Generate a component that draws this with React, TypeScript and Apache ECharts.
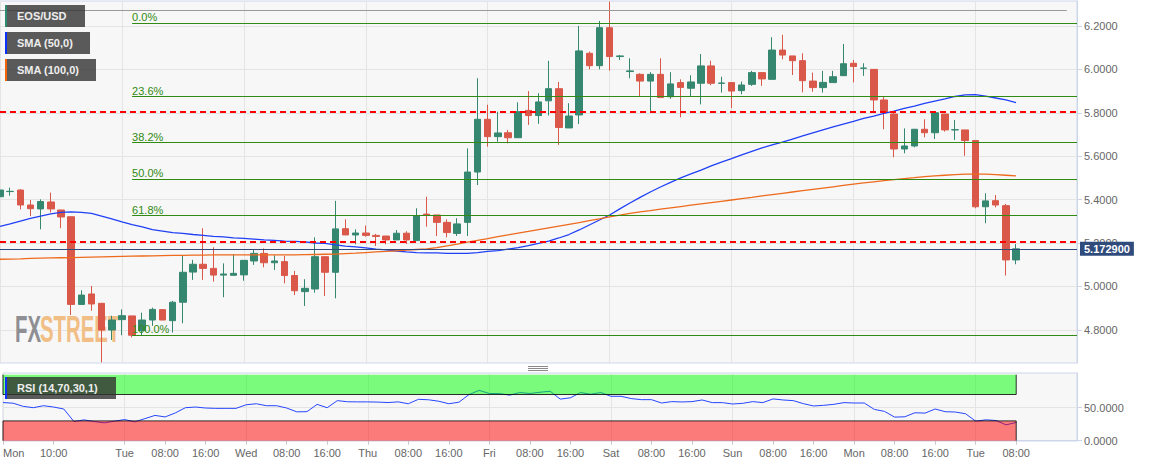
import React, { useEffect, useRef } from 'react';
import * as echarts from 'echarts';

const FONT = '"Liberation Sans", Arial, Helvetica, sans-serif';

// ---- time axis (2-hour bars, Mon 00:00 .. Tue 20:00 next week) ----
const dayNames = ['Mon', 'Tue', 'Wed', 'Thu', 'Fri', 'Sat', 'Sun', 'Mon', 'Tue'];
const barsPerDay = 12;
const slotCount = 107;
const xLabelIdx = [0, 5, 12, 16, 20, 24, 28, 32, 36, 40, 44, 48, 52, 56, 60, 64, 68, 72, 76, 80, 84, 88, 92, 96, 100];

// ---- EOS/USD candles: [open, close, low, high] ----
const candles = [
  [5.413, 5.444, 5.413, 5.480], [5.437, 5.438, 5.418, 5.455], [5.444, 5.375, 5.355, 5.447], [5.375, 5.358, 5.324, 5.398],
  [5.357, 5.391, 5.263, 5.401], [5.389, 5.357, 5.341, 5.432], [5.352, 5.320, 5.268, 5.352], [5.321, 4.917, 4.868, 5.321],
  [4.917, 4.960, 4.917, 4.982], [4.965, 4.919, 4.888, 5.002], [4.922, 4.799, 4.650, 4.922], [4.799, 4.845, 4.753, 4.865],
  [4.847, 4.865, 4.775, 4.894], [4.864, 4.775, 4.765, 4.864], [4.796, 4.845, 4.771, 4.879], [4.845, 4.894, 4.818, 4.902],
  [4.893, 4.845, 4.845, 4.893], [4.842, 4.927, 4.787, 4.933], [4.927, 5.065, 4.830, 5.140], [5.066, 5.102, 5.030, 5.122],
  [5.102, 5.083, 5.030, 5.268], [5.083, 5.052, 5.022, 5.180], [5.052, 5.057, 4.950, 5.106], [5.051, 5.060, 5.051, 5.149],
  [5.053, 5.120, 5.026, 5.120], [5.117, 5.152, 5.099, 5.168], [5.152, 5.109, 5.088, 5.175], [5.109, 5.117, 5.076, 5.143],
  [5.114, 5.050, 5.014, 5.140], [5.050, 4.980, 4.960, 5.071], [4.976, 4.991, 4.910, 5.033], [4.988, 5.137, 4.971, 5.226],
  [5.137, 5.065, 4.956, 5.137], [5.065, 5.265, 4.945, 5.394], [5.266, 5.237, 5.237, 5.309], [5.237, 5.246, 5.194, 5.263],
  [5.246, 5.235, 5.229, 5.280], [5.235, 5.230, 5.186, 5.242], [5.232, 5.214, 5.194, 5.232], [5.214, 5.245, 5.214, 5.260],
  [5.245, 5.214, 5.195, 5.254], [5.211, 5.326, 5.211, 5.360], [5.333, 5.328, 5.275, 5.413], [5.329, 5.295, 5.232, 5.329],
  [5.295, 5.248, 5.226, 5.309], [5.244, 5.288, 5.232, 5.314], [5.295, 5.527, 5.232, 5.636], [5.527, 5.770, 5.467, 5.959],
  [5.770, 5.690, 5.644, 5.837], [5.690, 5.707, 5.667, 5.805], [5.708, 5.685, 5.659, 5.721], [5.685, 5.805, 5.685, 5.848],
  [5.811, 5.787, 5.744, 5.900], [5.787, 5.850, 5.749, 5.890], [5.855, 5.911, 5.787, 6.039], [5.911, 5.732, 5.652, 5.942],
  [5.730, 5.785, 5.730, 5.844], [5.790, 6.085, 5.748, 6.200], [6.074, 6.017, 6.000, 6.082], [6.017, 6.192, 6.000, 6.223],
  [6.192, 6.059, 5.994, 6.312], [6.059, 6.062, 6.043, 6.066], [5.990, 5.993, 5.959, 6.051], [5.977, 5.946, 5.877, 5.982],
  [5.946, 5.977, 5.805, 5.987], [5.977, 5.870, 5.870, 6.051], [5.874, 5.933, 5.864, 5.987], [5.939, 5.917, 5.779, 5.954],
  [5.913, 5.942, 5.877, 5.973], [5.936, 6.016, 5.839, 6.071], [6.016, 5.936, 5.927, 6.040], [5.936, 5.937, 5.893, 5.966],
  [5.939, 5.900, 5.821, 5.939], [5.902, 5.928, 5.885, 5.944], [5.931, 5.985, 5.924, 5.993], [5.985, 5.956, 5.924, 5.985],
  [5.954, 6.089, 5.954, 6.148], [6.089, 6.066, 6.046, 6.159], [6.062, 6.040, 5.974, 6.062], [6.040, 5.948, 5.894, 6.074],
  [5.946, 5.916, 5.897, 5.985], [5.916, 5.940, 5.893, 5.993], [5.939, 5.966, 5.939, 5.993], [5.971, 6.026, 5.971, 6.117],
  [6.028, 6.013, 5.940, 6.043], [6.005, 6.006, 5.970, 6.028], [6.000, 5.859, 5.808, 6.000], [5.859, 5.801, 5.724, 5.874],
  [5.794, 5.633, 5.595, 5.804], [5.633, 5.647, 5.613, 5.728], [5.647, 5.724, 5.641, 5.724], [5.724, 5.708, 5.687, 5.770],
  [5.708, 5.800, 5.679, 5.800], [5.794, 5.721, 5.713, 5.794], [5.721, 5.722, 5.675, 5.767], [5.721, 5.672, 5.602, 5.721],
  [5.672, 5.367, 5.360, 5.672], [5.367, 5.394, 5.291, 5.429], [5.395, 5.375, 5.364, 5.421], [5.372, 5.122, 5.050, 5.380],
  [5.122, 5.1729, 5.102, 5.195],
];

const sma50 = [
  5.276, 5.288, 5.301, 5.313, 5.324, 5.334, 5.341, 5.343, 5.341, 5.336,
  5.324, 5.311, 5.297, 5.285, 5.274, 5.262, 5.255, 5.248, 5.244, 5.239,
  5.235, 5.230, 5.228, 5.224, 5.221, 5.218, 5.214, 5.212, 5.209, 5.207,
  5.205, 5.200, 5.198, 5.191, 5.186, 5.182, 5.177, 5.172, 5.168, 5.163,
  5.159, 5.156, 5.154, 5.154, 5.152, 5.152, 5.152, 5.156, 5.161, 5.165,
  5.172, 5.179, 5.188, 5.198, 5.209, 5.223, 5.239, 5.260, 5.283, 5.306,
  5.329, 5.357, 5.384, 5.410, 5.435, 5.458, 5.479, 5.500, 5.518, 5.536,
  5.555, 5.573, 5.589, 5.606, 5.622, 5.638, 5.652, 5.665, 5.679, 5.693,
  5.707, 5.721, 5.735, 5.748, 5.760, 5.774, 5.785, 5.797, 5.808, 5.820,
  5.831, 5.843, 5.854, 5.864, 5.875, 5.882, 5.884, 5.877, 5.868, 5.859,
  5.847,
];

const sma100 = [
  5.125, 5.126, 5.127, 5.129, 5.130, 5.131, 5.132, 5.133, 5.134, 5.135,
  5.136, 5.137, 5.138, 5.139, 5.140, 5.141, 5.142, 5.143, 5.143, 5.144,
  5.144, 5.145, 5.145, 5.145, 5.145, 5.145, 5.145, 5.145, 5.145, 5.145,
  5.146, 5.147, 5.148, 5.149, 5.151, 5.153, 5.156, 5.159, 5.161, 5.164,
  5.167, 5.170, 5.173, 5.179, 5.187, 5.195, 5.204, 5.212, 5.220, 5.229,
  5.237, 5.245, 5.253, 5.262, 5.270, 5.278, 5.286, 5.294, 5.303, 5.311,
  5.320, 5.328, 5.336, 5.343, 5.349, 5.356, 5.362, 5.368, 5.374, 5.380,
  5.386, 5.392, 5.398, 5.404, 5.410, 5.417, 5.423, 5.429, 5.435, 5.441,
  5.447, 5.453, 5.459, 5.465, 5.471, 5.477, 5.482, 5.487, 5.492, 5.497,
  5.501, 5.506, 5.509, 5.512, 5.515, 5.517, 5.517, 5.517, 5.515, 5.512,
  5.509,
];

const rsi = [
  57.8, 56.8, 52.0, 50.0, 53.0, 51.0, 48.0, 29.0, 31.5, 29.0,
  27.0, 29.5, 32.0, 28.5, 33.4, 38.3, 36.0, 42.0, 50.0, 51.0,
  49.5, 49.0, 49.0, 49.0, 54.4, 56.0, 53.0, 53.0, 49.5, 43.7,
  44.0, 55.0, 50.0, 60.7, 59.0, 58.8, 58.8, 58.5, 57.8, 58.8,
  56.0, 62.7, 62.0, 59.8, 56.0, 58.3, 70.0, 76.3, 71.5, 71.5,
  69.0, 73.0, 71.5, 73.4, 75.0, 63.0, 65.0, 73.0, 70.4, 73.0,
  67.3, 67.3, 63.8, 62.2, 62.2, 57.1, 59.2, 58.7, 59.2, 61.7,
  57.7, 57.7, 55.6, 56.6, 59.2, 57.7, 63.3, 61.7, 60.7, 56.1,
  52.6, 53.6, 55.1, 57.7, 57.1, 57.1, 47.4, 44.4, 35.7, 36.2,
  42.3, 41.8, 48.0, 43.9, 43.4, 40.8, 29.6, 31.6, 30.6, 24.0,
  27.6,
];

// ---- drawn levels ----
const fibLevels = [0, 23.6, 38.2, 50, 61.8, 100];
const fibHigh = 6.214;
const fibLow = 4.777;
const fibStartIdx = 13;
const redLevels = [5.803, 5.207];
const greyLevel = 6.273;
const lastPrice = 5.1729;
const rsiUpper = 70;
const rsiLower = 30;

const priceTicks = [4.8, 5.0, 5.2, 5.4, 5.6, 5.8, 6.0, 6.2];
const rsiTicks = [0, 50];

const categories: string[] = [];
for (let i = 0; i < slotCount; i++) {
  const d = Math.floor(i / barsPerDay);
  const hh = String((i % barsPerDay) * 2).padStart(2, '0') + ':00';
  categories.push(`${d}|${dayNames[d]}|${hh}`);
}
const fmtX = (v: string) => {
  const parts = v.split('|');
  return parts[2] === '00:00' ? parts[1] : parts[2];
};

const UP = '#35876f';
const DOWN = '#d9584a';
const FIB = '#318a12';
const NAVY = '#2f4b7c';

export default function App() {
  const ref = useRef<HTMLDivElement>(null);
  useEffect(() => {
    if (!ref.current) return;
    const chart = echarts.init(ref.current, null, { renderer: 'svg' });
    const lastIdx = slotCount - 1;
    const fibData = fibLevels.map((l) => {
      const v = fibHigh - (l / 100) * (fibHigh - fibLow);
      return [
        {
          coord: [fibStartIdx, v],
          name: l.toFixed(1) + '%',
          lineStyle: { color: FIB, width: 1, type: 'solid' },
          label: { show: true, position: 'insideStartTop', formatter: '{b}', color: FIB, fontSize: 11, fontFamily: FONT, distance: [0, 0] },
        },
        { coord: [lastIdx, v] },
      ];
    });
    const xAxisFor = (g: number) => ({
      type: 'category',
      gridIndex: g,
      data: categories,
      boundaryGap: false,
      axisLine: { show: g === 1, lineStyle: { color: '#ccd6eb' } },
      axisTick: { show: g === 1, length: 4, interval: (i: number) => xLabelIdx.includes(i), lineStyle: { color: '#c6c6c6' } },
      axisLabel: {
        show: g === 1,
        interval: (i: number) => xLabelIdx.includes(i),
        formatter: fmtX,
        color: '#666',
        fontSize: 11,
        fontFamily: FONT,
        margin: 6,
        alignMinLabel: 'left',
      },
      splitLine: { show: true, interval: (i: number) => i % barsPerDay === 0, lineStyle: { color: '#e4e4e4' } },
    });
    const option: any = {
      animation: false,
      textStyle: { fontFamily: FONT },
      grid: [
        { left: 0, top: 1, width: 1077, height: 362, show: true, backgroundColor: '#f7f7f7', borderColor: '#ccd6eb', borderWidth: 1 },
        { left: 0, top: 373, width: 1077, height: 68, show: true, backgroundColor: '#f7f7f7', borderColor: '#ccd6eb', borderWidth: 1 },
      ],
      xAxis: [xAxisFor(0), xAxisFor(1)],
      yAxis: [
        {
          type: 'value', gridIndex: 0, position: 'right', min: 4.647, max: 6.315,
          axisLine: { show: true, lineStyle: { color: '#ccd6eb' } },
          axisTick: { show: true, length: 5, customValues: priceTicks, lineStyle: { color: '#ccd6eb' } },
          axisLabel: { customValues: priceTicks, formatter: (v: number) => v.toFixed(4), color: '#666', fontSize: 11, fontFamily: FONT, margin: 7 },
          splitLine: { show: true, lineStyle: { color: '#e4e4e4' } },
        },
        {
          type: 'value', gridIndex: 1, position: 'right', min: -0.5, max: 102.6,
          axisLine: { show: true, lineStyle: { color: '#ccd6eb' } },
          axisTick: { show: true, length: 5, customValues: rsiTicks, lineStyle: { color: '#ccd6eb' } },
          axisLabel: { customValues: rsiTicks, formatter: (v: number) => v.toFixed(4), color: '#666', fontSize: 11, fontFamily: FONT, margin: 7 },
          splitLine: { show: true, lineStyle: { color: '#e4e4e4' } },
        },
      ],
      series: [
        {
          type: 'candlestick',
          xAxisIndex: 0,
          yAxisIndex: 0,
          data: candles,
          barWidth: 7,
          silent: true,
          itemStyle: { color: UP, color0: DOWN, borderColor: UP, borderColor0: DOWN, borderWidth: 1 },
          markLine: {
            silent: true,
            symbol: ['none', 'none'],
            precision: 6,
            data: [
              ...redLevels.map((v) => ({ yAxis: v, lineStyle: { color: '#ff0000', type: [6, 4], width: 2 }, label: { show: false } })),
              [
                { coord: [0, greyLevel], lineStyle: { color: '#9a9a9a', width: 1, type: 'solid' }, label: { show: false } },
                { coord: [lastIdx - 1, greyLevel] },
              ],
              ...fibData,
              {
                yAxis: lastPrice,
                lineStyle: { color: NAVY, width: 1, type: 'solid' },
                label: {
                  show: true, position: 'end', formatter: lastPrice.toFixed(6), backgroundColor: NAVY, color: '#fff',
                  fontWeight: 'bold', fontSize: 11, fontFamily: FONT, padding: [2, 4, 1, 4], distance: 3,
                },
              },
            ],
          },
        },
        {
          type: 'line', name: 'SMA (50,0)', xAxisIndex: 0, yAxisIndex: 0, data: sma50,
          showSymbol: false, symbol: 'none', silent: true, lineStyle: { color: '#2040f6', width: 1.3 },
        },
        {
          type: 'line', name: 'SMA (100,0)', xAxisIndex: 0, yAxisIndex: 0, data: sma100,
          showSymbol: false, symbol: 'none', silent: true, lineStyle: { color: '#ee6a1c', width: 1.3 },
        },
        {
          type: 'line', name: 'RSI', xAxisIndex: 1, yAxisIndex: 1, data: rsi, z: 2,
          showSymbol: false, symbol: 'none', silent: true, lineStyle: { color: '#2646ff', width: 1 },
        },
        {
          type: 'custom', xAxisIndex: 1, yAxisIndex: 1, z: 5, silent: true,
          data: [
            [0, candles.length - 1, rsiUpper, 100],
            [0, candles.length - 1, 0, rsiLower],
          ],
          renderItem: (params: any, api: any) => {
            const pTL = api.coord([api.value(0), api.value(3)]);
            const pBR = api.coord([api.value(1), api.value(2)]);
            const upper = params.dataIndex === 0;
            const x0 = pTL[0], x1 = pBR[0], yT = pTL[1], yB = pBR[1];
            const edge = upper
              ? [[x0, yT], [x0, yB], [x1, yB], [x1, yT]]
              : [[x0, yB], [x0, yT], [x1, yT], [x1, yB]];
            return {
              type: 'group',
              children: [
                { type: 'rect', shape: { x: x0, y: yT, width: x1 - x0, height: yB - yT }, style: { fill: upper ? 'rgba(0,255,0,0.5)' : 'rgba(255,0,0,0.5)' } },
                { type: 'polyline', shape: { points: edge }, style: { stroke: 'rgba(0,0,0,0.8)', lineWidth: 1, fill: 'none' } },
              ],
            };
          },
        },
      ],
      graphic: [
        { type: 'text', x: 15, y: 310, scaleX: 0.55, z: 1, silent: true, style: { text: 'FX', fill: '#8e8e93', font: `bold 37px ${FONT}` } },
        { type: 'text', x: 40, y: 310, scaleX: 0.55, z: 1, silent: true, style: { text: 'STREET', fill: '#f1be86', font: `bold 37px ${FONT}` } },
        // legend boxes
        { type: 'rect', z: 100, silent: true, shape: { x: 5, y: 5, width: 2, height: 22 }, style: { fill: '#2e8a70' } },
        { type: 'rect', z: 100, silent: true, shape: { x: 7, y: 5, width: 78, height: 22 }, style: { fill: 'rgba(50,50,50,0.8)' } },
        { type: 'text', z: 101, silent: true, x: 17, y: 16, style: { text: 'EOS/USD', fill: '#eeeeee', font: `bold 11px ${FONT}`, verticalAlign: 'middle' } },
        { type: 'rect', z: 100, silent: true, shape: { x: 5, y: 32, width: 2, height: 22 }, style: { fill: '#0a32ff' } },
        { type: 'rect', z: 100, silent: true, shape: { x: 7, y: 32, width: 83, height: 22 }, style: { fill: 'rgba(50,50,50,0.8)' } },
        { type: 'text', z: 101, silent: true, x: 17, y: 43, style: { text: 'SMA (50,0)', fill: '#eeeeee', font: `bold 11px ${FONT}`, verticalAlign: 'middle' } },
        { type: 'rect', z: 100, silent: true, shape: { x: 5, y: 59, width: 2, height: 22 }, style: { fill: '#f0640a' } },
        { type: 'rect', z: 100, silent: true, shape: { x: 7, y: 59, width: 89, height: 22 }, style: { fill: 'rgba(50,50,50,0.8)' } },
        { type: 'text', z: 101, silent: true, x: 17, y: 70, style: { text: 'SMA (100,0)', fill: '#eeeeee', font: `bold 11px ${FONT}`, verticalAlign: 'middle' } },
        { type: 'rect', z: 100, silent: true, shape: { x: 5, y: 377, width: 2, height: 22 }, style: { fill: '#0a32ff' } },
        { type: 'rect', z: 100, silent: true, shape: { x: 7, y: 377, width: 109, height: 22 }, style: { fill: 'rgba(50,50,50,0.8)' } },
        { type: 'text', z: 101, silent: true, x: 17, y: 388, style: { text: 'RSI (14,70,30,1)', fill: '#eeeeee', font: `bold 11px ${FONT}`, verticalAlign: 'middle' } },
        // panel divider handle
        { type: 'line', z: 100, silent: true, shape: { x1: 528, y1: 366.5, x2: 548, y2: 366.5 }, style: { stroke: '#8a8a8a', lineWidth: 1 } },
        { type: 'line', z: 100, silent: true, shape: { x1: 528, y1: 368.5, x2: 548, y2: 368.5 }, style: { stroke: '#8a8a8a', lineWidth: 1 } },
        { type: 'line', z: 100, silent: true, shape: { x1: 528, y1: 370.5, x2: 548, y2: 370.5 }, style: { stroke: '#8a8a8a', lineWidth: 1 } },
      ],
    };
    chart.setOption(option);
    return () => chart.dispose();
  }, []);
  return <div ref={ref} style={{ position: 'absolute', left: 0, top: 0, width: 1153, height: 467, background: '#fff' }} />;
}
